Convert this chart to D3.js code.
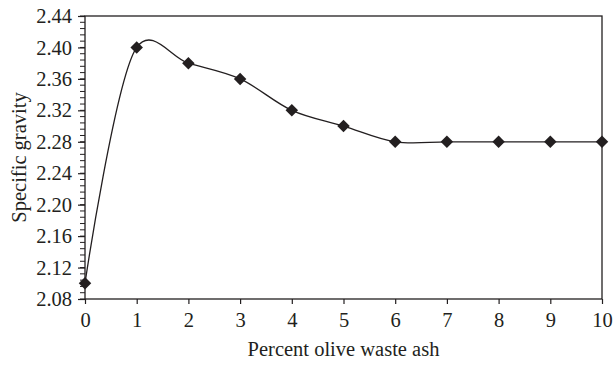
<!DOCTYPE html>
<html>
<head>
<meta charset="utf-8">
<script src="https://cdn.jsdelivr.net/npm/d3@7"></script>
<style>
  body { margin: 0; background: #fff; }
  text { font-family: "Liberation Serif", "DejaVu Serif", serif; fill: #231f20; }
</style>
</head>
<body>
<div id="chart"></div>
<script>
const ashPercent = [0, 1, 2, 3, 4, 5, 6, 7, 8, 9, 10];
const specificGravity = [2.10, 2.40, 2.38, 2.36, 2.32, 2.30, 2.28, 2.28, 2.28, 2.28, 2.28];
const yTicks = [2.08, 2.12, 2.16, 2.20, 2.24, 2.28, 2.32, 2.36, 2.40, 2.44];
const xTicks = [0, 1, 2, 3, 4, 5, 6, 7, 8, 9, 10];

const W = 613, H = 366;
const margin = {top: 16, right: 11, bottom: 67, left: 85};
const width = W - margin.left - margin.right;
const height = H - margin.top - margin.bottom;
const ink = '#231f20';
const fontSize = '20.5px';

const svg = d3.select('#chart').append('svg')
  .attr('width', W)
  .attr('height', H);

const g = svg.append('g')
  .attr('transform', 'translate(' + margin.left + ',' + margin.top + ')');

const x = d3.scaleLinear().domain([0, 10]).range([0, width]);
const y = d3.scaleLinear().domain([2.08, 2.44]).range([height, 0]);

// minor y ticks
const minor = d3.range(2.08, 2.4401, 0.008);
g.append('g').selectAll('line')
  .data(minor)
  .enter().append('line')
  .attr('x1', -5).attr('x2', 0)
  .attr('y1', d => y(d)).attr('y2', d => y(d))
  .attr('stroke', ink).attr('stroke-width', 1);

const yAxis = g.append('g')
  .call(d3.axisLeft(y).tickValues(yTicks).tickFormat(d3.format('.2f')).tickSize(7).tickPadding(6));
const xAxis = g.append('g')
  .attr('transform', 'translate(0,' + height + ')')
  .call(d3.axisBottom(x).tickValues(xTicks).tickSize(5).tickPadding(8));

[yAxis, xAxis].forEach(a => {
  a.select('.domain').remove();
  a.selectAll('line').attr('stroke', ink).attr('stroke-width', 1.2);
  a.selectAll('text').style('font-size', fontSize).attr('fill', ink)
    .style('font-family', '"Liberation Serif", serif');
});

// frame
g.append('rect')
  .attr('x', 0).attr('y', 0)
  .attr('width', width).attr('height', height)
  .attr('fill', 'none')
  .attr('stroke', ink)
  .attr('stroke-width', 1.3);

const pts = ashPercent.map((d, i) => [d, specificGravity[i]]);

const line = d3.line()
  .x(d => x(d[0]))
  .y(d => y(d[1]))
  .curve(d3.curveCatmullRom.alpha(0.2));

g.append('path')
  .datum(pts)
  .attr('d', line)
  .attr('fill', 'none')
  .attr('stroke', ink)
  .attr('stroke-width', 1.3);

g.selectAll('.marker')
  .data(pts)
  .enter().append('path')
  .attr('class', 'marker')
  .attr('d', d3.symbol().type(d3.symbolSquare).size(78))
  .attr('transform', d => 'translate(' + x(d[0]) + ',' + y(d[1]) + ') rotate(45)')
  .attr('fill', ink);

svg.append('text')
  .attr('x', margin.left + width / 2)
  .attr('y', 356)
  .attr('text-anchor', 'middle')
  .style('font-size', fontSize)
  .text('Percent olive waste ash');

svg.append('text')
  .attr('transform', 'translate(26,' + (margin.top + height / 2) + ') rotate(-90)')
  .attr('text-anchor', 'middle')
  .style('font-size', fontSize)
  .text('Specific gravity');
</script>
</body>
</html>
